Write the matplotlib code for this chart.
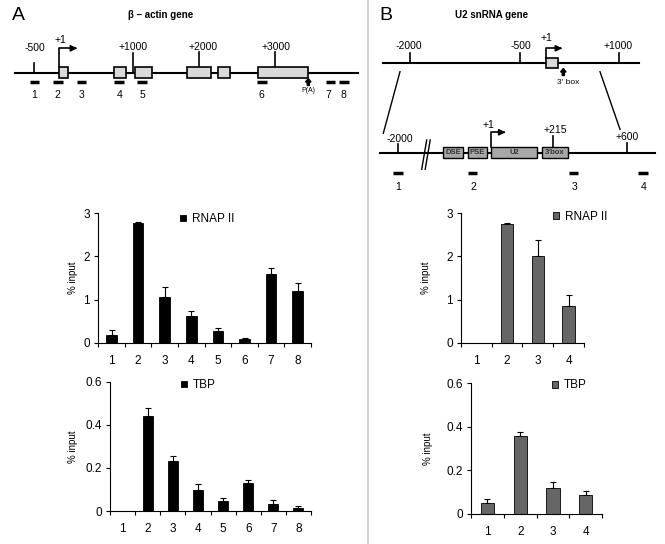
import matplotlib
matplotlib.use("Agg")
import matplotlib.pyplot as plt
import numpy as np

plt.rcParams['font.family'] = ['Liberation Sans', 'DejaVu Sans']

# ChIP data (% input)
a_probes = ['1', '2', '3', '4', '5', '6', '7', '8']
a_pol = [0.17, 2.78, 1.05, 0.63, 0.27, 0.09, 1.59, 1.20]
a_pol_err = [0.13, 0.02, 0.25, 0.11, 0.06, 0.01, 0.15, 0.19]
a_tbp = [0.0, 0.44, 0.233, 0.097, 0.048, 0.128, 0.032, 0.014]
a_tbp_err = [0.0, 0.04, 0.024, 0.027, 0.012, 0.014, 0.021, 0.009]

b_probes = ['1', '2', '3', '4']
b_pol = [0.0, 2.75, 2.00, 0.86]
b_pol_err = [0.0, 0.03, 0.39, 0.25]
b_tbp = [0.049, 0.359, 0.117, 0.086]
b_tbp_err = [0.017, 0.017, 0.029, 0.020]

W, H = 665, 544
fig = plt.figure(figsize=(W / 100, H / 100), dpi=100)


def rect(l, r, t, b):
    return [l / W, 1 - b / H, (r - l) / W, (b - t) / H]


def bar_panel(pos, labels, vals, errs, color, ymax, yticks, ytl, name, leg_x, leg_y, ylab_x):
    l, r, t, b = pos
    ax = fig.add_axes(rect(l, r, t, b))
    x = np.arange(1, len(labels) + 1)
    ax.bar(x, vals, width=0.4, color=color, edgecolor='black', linewidth=0.6, label=name, zorder=2)
    vals = np.array(vals)
    errs = np.array(errs)
    m = vals > 0
    ax.errorbar(x[m], vals[m], yerr=[np.zeros(m.sum()), errs[m]], fmt='none',
                ecolor='black', elinewidth=0.8, capsize=2.5, capthick=0.8, zorder=1)
    ax.set_xlim(0.5, len(labels) + 0.5)
    ax.set_ylim(0, ymax)
    ax.set_yticks(yticks)
    ax.set_yticklabels(ytl, fontsize=8.5)
    ax.set_xticks(np.arange(0.5, len(labels) + 1, 1))
    ax.set_xticklabels([])
    ax.set_xticks(x, minor=True)
    ax.set_xticklabels(labels, minor=True, fontsize=8.5)
    ax.tick_params(axis='x', which='major', length=3, width=0.8, direction='out')
    ax.tick_params(axis='x', which='minor', length=0, pad=9)
    ax.tick_params(axis='y', length=3, width=0.8, pad=3)
    for s in ['top', 'right']:
        ax.spines[s].set_visible(False)
    for s in ['left', 'bottom']:
        ax.spines[s].set_linewidth(0.8)
    ax.set_ylabel('% input', fontsize=7)
    ax.yaxis.set_label_coords((ylab_x + 6 - l) / (r - l), 0.5)
    ax.legend(frameon=False, loc='upper left', bbox_to_anchor=((leg_x - l) / (r - l), leg_y),
              borderaxespad=0, borderpad=0, handlelength=0.5, handleheight=0.5,
              handletextpad=0.5, fontsize=8.5)
    return ax


bar_panel((98.3, 311, 213.3, 342.7), a_probes, a_pol, a_pol_err, 'black', 3,
          [0, 1, 2, 3], ['0', '1', '2', '3'], 'RNAP II', 180, 1.0, 72)
bar_panel((110, 311, 381.7, 511), a_probes, a_tbp, a_tbp_err, 'black', 0.6,
          [0, 0.2, 0.4, 0.6], ['0', '0.2', '0.4', '0.6'], 'TBP', 181, 1.02, 72)
bar_panel((461, 584, 213.3, 342.7), b_probes, b_pol, b_pol_err, '#666666', 3,
          [0, 1, 2, 3], ['0', '1', '2', '3'], 'RNAP II', 553, 1.02, 425)
bar_panel((471, 602.3, 383.3, 513.7), b_probes, b_tbp, b_tbp_err, '#666666', 0.6,
          [0, 0.2, 0.4, 0.6], ['0', '0.2', '0.4', '0.6'], 'TBP', 552, 1.03, 427)

# gene diagrams drawn in pixel coordinates on an overlay axes
d = fig.add_axes([0, 0, 1, 1], zorder=-1)
d.set_xlim(0, W)
d.set_ylim(H, 0)
d.axis('off')

d.plot([368, 368], [0, H], color='#c8c8c8', lw=1.2)

d.text(18, 16, 'A', fontsize=14, ha='center', va='center')
d.text(386, 16, 'B', fontsize=14, ha='center', va='center')
d.text(161, 15, 'β – actin gene', fontsize=7, fontweight='bold', ha='center', va='center')
d.text(492, 15, 'U2 snRNA gene', fontsize=7, fontweight='bold', ha='center', va='center')


def box(x0, x1, y0, y1, fc, lw=1.2):
    d.add_patch(plt.Rectangle((x0, y0), x1 - x0, y1 - y0, facecolor=fc,
                              edgecolor='black', lw=lw, zorder=3))


def tick(x, y0, y1, lab, ly, lx=None):
    d.plot([x, x], [y0, y1], color='black', lw=1.2)
    d.text(x if lx is None else lx, ly, lab, fontsize=7.5, ha='center', va='center')


def primer(x, y):
    d.plot([x - 4.7, x + 4.7], [y, y], color='black', lw=2.5, solid_capstyle='butt')


def tss(x, ytop, yarr, xend, lab, lx, ly):
    d.plot([x, x, xend - 6], [ytop, yarr, yarr], color='black', lw=1.2)
    d.annotate('', xy=(xend, yarr), xytext=(xend - 7, yarr),
               arrowprops=dict(arrowstyle='-|>', color='black', lw=1.2, mutation_scale=9))
    d.text(lx, ly, lab, fontsize=7.5, ha='center', va='center')


# panel A: beta-actin
ya = 72.7
d.plot([15, 358], [ya, ya], color='black', lw=1.5)
tick(34.3, ya, 63, '-500', 48, 35)
tick(133.3, ya, 53, '+1000', 46.7)
tick(199, 66.7, 51.7, '+2000', 46.7, 203)
tick(275.3, 66.7, 51.7, '+3000', 46.7, 276)
for x0, x1 in [(59.3, 67.7), (114.3, 126), (135, 152.3), (186.7, 211), (217.7, 230), (257.7, 308.3)]:
    box(x0, x1, 66.7, 78.3, '#d9d9d9')
tss(59.3, 66.7, 48.3, 80, '+1', 60, 40)
d.arrow(308.3, 85.5, 0, -7, width=2.2, head_width=5.5, head_length=3.5,
        length_includes_head=True, color='black', zorder=4)
d.text(308, 90, 'P(A)', fontsize=5, ha='center', va='center')
for x, lx, lab in zip([34.3, 58, 81.3, 119, 142, 262, 330.3, 344],
                      [34.3, 57.3, 81.7, 120, 142.3, 261.7, 328.3, 343.3], a_probes):
    primer(x, 82.3)
    d.text(lx, 95, lab, fontsize=7.5, ha='center', va='center')

# panel B: U2 snRNA, overview line
yb = 63.3
d.plot([383.3, 639.3], [yb, yb], color='black', lw=1.5)
tick(410, yb, 53.3, '-2000', 45.7, 409)
tick(520, yb, 53.3, '-500', 45.7, 520.7)
tick(619.3, yb, 53.3, '+1000', 45.7, 618.3)
box(545.7, 557.7, 57.7, 68.3, '#d9d9d9')
tss(545.7, 57.7, 48.3, 565, '+1', 546.7, 38.3)
d.arrow(563.3, 75.5, 0, -7, width=2.2, head_width=5.5, head_length=3.5,
        length_includes_head=True, color='black', zorder=4)
d.text(568, 82.7, "3' box", fontsize=6, ha='center', va='center')
d.plot([400, 383.3], [71.7, 133.3], color='black', lw=1)
d.plot([600, 620], [71.7, 129.3], color='black', lw=1)

# zoomed U2 locus
yz = 153.3
d.plot([380, 655], [yz, yz], color='black', lw=1.5)
tick(397.7, yz, 144.3, '-2000', 139.3, 400)
for dx in (0, 3.5):
    d.plot([421.7 + dx, 426.7 + dx], [169.3, 140], color='black', lw=1)
for x0, x1, lab in [(443.3, 463.3, 'DSE'), (468.3, 486.7, 'PSE'),
                    (491, 537.3, 'U2'), (541.7, 567.7, "3'box")]:
    box(x0, x1, 147.3, 158.3, '#a8a8a8', lw=1)
    d.text((x0 + x1) / 2, 153, lab, fontsize=5.5, fontweight='bold', ha='center',
           va='center', color='#333333', zorder=4)
tss(491, 147.3, 132.3, 508.3, '+1', 488.3, 125)
tick(553.3, 147.3, 136, '+215', 130, 555.7)
tick(627.3, yz, 142.7, '+600', 136.7)
for x, lx, lab in zip([398, 472.3, 573.7, 643], [398.3, 473.3, 574.3, 643.3], b_probes):
    primer(x, 173.3)
    d.text(lx, 186.7, lab, fontsize=7.5, ha='center', va='center')

fig.savefig('out.png', dpi=100)
